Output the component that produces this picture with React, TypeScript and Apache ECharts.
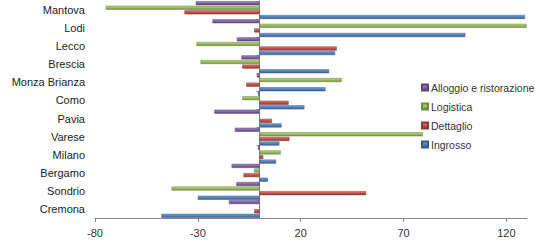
import React, { useEffect, useRef } from "react";
import * as echarts from "echarts";

const categories = ["Cremona", "Sondrio", "Bergamo", "Milano", "Varese", "Pavia", "Como", "Monza Brianza", "Brescia", "Lecco", "Lodi", "Mantova"];
const ingrosso = [-47.7, -30, 4, 8, 9.6, 10.7, 21.8, 32, 33.8, 36.7, 100, 129];
const dettaglio = [-2.6, 51.8, -7.8, 1.8, 14.5, 6, 14.1, -6.5, -8.4, 37.5, -2.6, -36.5];
const logistica = [0, -42.8, -2.7, 10.3, 79.4, 0, -8.4, 40, -28.7, -30.7, 129.8, -74.8];
const alloggio = [-14.9, -11.3, -13.6, -0.8, -12, -22, -0.8, -1.3, -8.8, -11, -22.9, -31];
const seriesNames = ["Alloggio e ristorazione", "Logistica", "Dettaglio", "Ingrosso"];
const xTicks = { min: -80, max: 130, interval: 50 };

const palette = [
  { base: "#8064A2", light: "#A28DBE", dark: "#5C4776" },
  { base: "#9BBB59", light: "#B9D38A", dark: "#71893F" },
  { base: "#C0504D", light: "#D7817E", dark: "#8C3836" },
  { base: "#4F81BD", light: "#7EA3D3", dark: "#385D8A" },
];

export default function App() {
  const ref = useRef<HTMLDivElement>(null);
  useEffect(() => {
    if (!ref.current) return;
    const chart = echarts.init(ref.current, null, { renderer: "svg" });
    const datasets = [alloggio, logistica, dettaglio, ingrosso];
    const font = "'Liberation Sans', Arial, sans-serif";
    chart.setOption({
      animation: false,
      grid: { left: 95, right: 8, top: 1, bottom: 23, containLabel: false },
      legend: {
        data: seriesNames.map((n) => ({ name: n })),
        orient: "vertical",
        left: 416,
        top: 77,
        itemWidth: 6,
        itemHeight: 6,
        itemGap: 8,
        icon: "rect",
        textStyle: { fontFamily: font, fontSize: 10.5, color: "#333", padding: [0, 0, 0, -2] },
      },
      xAxis: {
        type: "value",
        min: xTicks.min,
        max: xTicks.max,
        interval: xTicks.interval,
        splitLine: { show: false },
        axisLine: { show: true, onZero: false, lineStyle: { color: "#868686", width: 1 } },
        axisTick: { show: true, length: 4, lineStyle: { color: "#868686" } },
        axisLabel: {
          fontFamily: font, fontSize: 11, color: "#333", margin: 9,
          showMaxLabel: false,
        },
      },
      yAxis: [
        {
          type: "category",
          data: categories,
          axisLine: { show: false, onZero: false },
          axisTick: { show: false },
          axisLabel: { fontFamily: font, fontSize: 11, color: "#222", margin: 10 },
        },
        {
          type: "category",
          data: categories,
          position: "left",
          axisLine: { show: true, onZero: true, onZeroAxisIndex: 0, lineStyle: { color: "#868686", width: 1 } },
          axisTick: { show: true, length: 3, lineStyle: { color: "#868686" } },
          axisLabel: { show: false },
        },
      ],
      series: seriesNames.map((name, i) => ({
        name,
        type: "bar",
        yAxisIndex: 0,
        data: datasets[i],
        barWidth: 4,
        barGap: "15%",
        itemStyle: {
          color: new echarts.graphic.LinearGradient(0, 0, 0, 1, [
            { offset: 0, color: palette[i].light },
            { offset: 0.5, color: palette[i].base },
            { offset: 1, color: palette[i].dark },
          ]),
          borderColor: palette[i].dark,
          borderWidth: 0.5,
        },
      })),
    });
    return () => chart.dispose();
  }, []);
  return (
    <div
      ref={ref}
      style={{ position: "fixed", left: 0, top: 0, width: 535, height: 241, background: "#fff" }}
    />
  );
}
